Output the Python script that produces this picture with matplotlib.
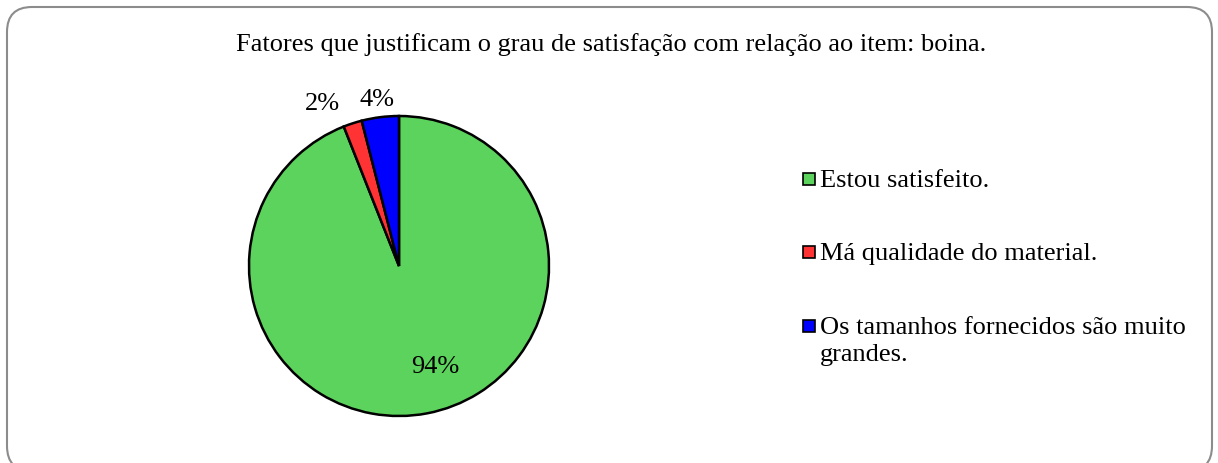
import matplotlib
matplotlib.use('Agg')
import matplotlib.pyplot as plt
from matplotlib.patches import FancyBboxPatch, Rectangle
from matplotlib.transforms import IdentityTransform

plt.rcParams['font.family'] = ['Liberation Serif', 'DejaVu Serif']

# Data
labels = ['Estou satisfeito.', 'Má qualidade do material.',
          'Os tamanhos fornecidos são muito\ngrandes.']
values = [94, 2, 4]
colors = ['#5cd35c', '#ff3333', '#0000ff']
title = 'Fatores que justificam o grau de satisfação com relação ao item: boina.'

W, H = 1218, 464
FS = 19
fig = plt.figure(figsize=(W / 100, H / 100), dpi=100)

# Rounded outer frame (pixel coordinates)
frame = FancyBboxPatch((7, -8), 1205, 464, boxstyle='round,pad=0,rounding_size=25',
                       transform=IdentityTransform(), facecolor='none',
                       edgecolor='#8c8c8c', linewidth=1.5, zorder=-1)
fig.patches.append(frame)

fig.text(611 / W, 1 - 45 / H, title, ha='center', va='center', fontsize=FS)

# Pie
cx, cy, r = 399, 267, 150
ax = fig.add_axes([(cx - r) / W, (H - cy - r) / H, 2 * r / W, 2 * r / H])
wedges, _ = ax.pie(values, colors=colors, startangle=90, counterclock=False,
                   wedgeprops=dict(edgecolor='black', linewidth=1.8))
ax.set_xlim(-1, 1)
ax.set_ylim(-1, 1)
ax.set_aspect('equal')

# Percentage labels
label_pos = [(0.24, -0.667), (-0.51, 1.09), (-0.147, 1.113)]
for v, (x, y) in zip(values, label_pos):
    ax.text(x, y, f'{v}%', ha='center', va='center', fontsize=FS, clip_on=False)

# Legend drawn manually
row_y = [180, 253, 327]
for lab, col, y in zip(labels, colors, row_y):
    fig.patches.append(Rectangle((803 / W, 1 - (y + 6) / H), 12 / W, 12 / H,
                                 transform=fig.transFigure, facecolor=col,
                                 edgecolor='black', linewidth=1.2))
    fig.text(820 / W, 1 - (y - 10) / H, lab, ha='left', va='top', fontsize=FS,
             linespacing=1.32)

fig.savefig('out.png', dpi=100)
